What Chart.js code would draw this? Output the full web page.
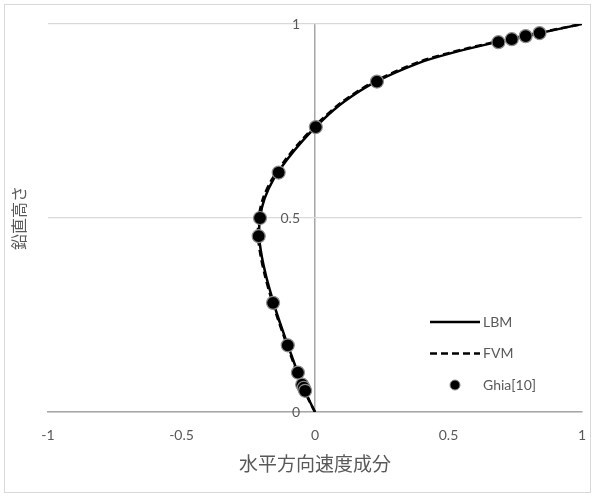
<!DOCTYPE html>
<html>
<head>
<meta charset="utf-8">
<script src="https://cdn.jsdelivr.net/npm/chart.js@4.4.1/dist/chart.umd.min.js"></script>
<style>
  html, body { margin: 0; padding: 0; background: #fff; }
  #wrap {
    position: absolute; left: 4px; top: 4px;
    width: 585px; height: 487px;
    border: 1px solid #d9d9d9;
  }
</style>
</head>
<body>
<div id="wrap"><canvas id="chart" width="585" height="487"></canvas></div>
<script>
// vertical position (y) and horizontal velocity (u)
const lbmY = [0, 0.025, 0.05, 0.075, 0.1, 0.15, 0.2, 0.25, 0.3, 0.35, 0.4, 0.45, 0.5,
  0.55, 0.6, 0.65, 0.7, 0.75, 0.8, 0.85, 0.9, 0.925, 0.95, 0.975, 1];
const lbmU = [0, -0.018, -0.035, -0.050, -0.064, -0.090, -0.116, -0.141, -0.163, -0.183,
  -0.199, -0.209, -0.206, -0.189, -0.155, -0.105, -0.045, 0.025, 0.110, 0.225, 0.390,
  0.510, 0.660, 0.830, 1];

const fvmY = [0, 0.025, 0.05, 0.075, 0.1, 0.15, 0.2, 0.25, 0.3, 0.35, 0.4, 0.45, 0.5,
  0.55, 0.6, 0.65, 0.7, 0.75, 0.8, 0.85, 0.9, 0.925, 0.95, 0.975, 1];
const fvmU = [0, -0.019, -0.036, -0.052, -0.066, -0.093, -0.119, -0.144, -0.167, -0.187,
  -0.203, -0.213, -0.211, -0.195, -0.161, -0.111, -0.051, 0.019, 0.103, 0.217, 0.380,
  0.500, 0.650, 0.822, 1];

const ghiaY = [0.9766, 0.9688, 0.9609, 0.9531, 0.8516, 0.7344, 0.6172, 0.5, 0.4531,
  0.2813, 0.1719, 0.1016, 0.0703, 0.0625, 0.0547];
const ghiaU = [0.841, 0.789, 0.737, 0.687, 0.232, 0.003, -0.136, -0.206, -0.211,
  -0.157, -0.102, -0.064, -0.048, -0.042, -0.037];

const xTicks = [-1, -0.5, 0, 0.5, 1];
const yTicks = [0, 0.5, 1];

const FONT = "Lato, 'Noto Sans CJK JP', sans-serif";
const TEXT = "#595959";
const AXIS = "#a6a6a6";

const toPts = (xs, ys) => xs.map((x, i) => ({ x, y: ys[i] }));

// legend drawn inside the plot area, lower right
const insideLegend = {
  id: "insideLegend",
  afterDraw(chart) {
    const { ctx, chartArea } = chart;
    const x0 = chartArea.right - 152;
    const items = [
      { label: "LBM", kind: "line", ds: chart.data.datasets[0] },
      { label: "FVM", kind: "line", ds: chart.data.datasets[1] },
      { label: "Ghia[10]", kind: "point", ds: chart.data.datasets[2] },
    ];
    ctx.save();
    items.forEach((it, i) => {
      const y = chartArea.top + 298 + i * 31.5;
      if (it.kind === "line") {
        ctx.beginPath();
        ctx.strokeStyle = it.ds.borderColor;
        ctx.lineWidth = it.ds.borderWidth;
        ctx.setLineDash(it.ds.borderDash || []);
        ctx.moveTo(x0, y);
        ctx.lineTo(x0 + 50, y);
        ctx.stroke();
        ctx.setLineDash([]);
      } else {
        ctx.beginPath();
        ctx.fillStyle = it.ds.pointBackgroundColor;
        ctx.strokeStyle = it.ds.pointBorderColor;
        ctx.lineWidth = 1;
        ctx.arc(x0 + 25, y, 5, 0, Math.PI * 2);
        ctx.fill();
        ctx.stroke();
      }
      ctx.fillStyle = TEXT;
      ctx.font = "14px " + FONT;
      ctx.textAlign = "left";
      ctx.textBaseline = "middle";
      ctx.fillText(it.label, x0 + 53, y);
    });
    ctx.restore();
  },
};

new Chart(document.getElementById("chart"), {
  type: "scatter",
  data: {
    datasets: [
      {
        label: "LBM",
        data: toPts(lbmU, lbmY),
        showLine: true,
        borderColor: "#000",
        borderWidth: 2.5,
        pointRadius: 0,
        tension: 0.3,
        order: 2,
      },
      {
        label: "FVM",
        data: toPts(fvmU, fvmY),
        showLine: true,
        borderColor: "#000",
        borderWidth: 2.5,
        borderDash: [7, 4],
        pointRadius: 0,
        tension: 0.3,
        order: 1,
      },
      {
        label: "Ghia[10]",
        data: toPts(ghiaU, ghiaY),
        showLine: false,
        pointRadius: 6.5,
        pointBackgroundColor: "#000",
        pointBorderColor: "#8c8c8c",
        pointBorderWidth: 1.2,
        order: 0,
      },
    ],
  },
  options: {
    responsive: false,
    animation: false,
    layout: { padding: { left: 0, top: 19, right: 8, bottom: 0 } },
    plugins: {
      legend: { display: false },
      tooltip: { enabled: false },
    },
    scales: {
      x: {
        type: "linear",
        position: "bottom",
        min: -1,
        max: 1,
        afterBuildTicks: (s) => { s.ticks = xTicks.map(v => ({ value: v })); },
        afterFit: (s) => { s.height = 80; s.paddingLeft = 0; s.paddingRight = 0; },
        // only the x = 0 line is shown: it acts as the vertical axis
        grid: {
          drawTicks: false,
          lineWidth: 1.5,
          color: (c) => (c.tick && c.tick.value === 0 ? AXIS : "rgba(0,0,0,0)"),
        },
        border: { display: true, color: AXIS, width: 1.5 },
        ticks: {
          padding: 15,
          color: TEXT,
          font: { family: FONT, size: 14 },
          callback: (v) => String(v),
        },
        title: {
          display: true,
          text: "水平方向速度成分",
          color: TEXT,
          font: { family: FONT, size: 19 },
          padding: { top: 0, bottom: 16 },
        },
      },
      y: {
        type: "linear",
        // labels sit just left of the x = 0 line
        position: { x: -0.056 },
        min: 0,
        max: 1,
        afterBuildTicks: (s) => { s.ticks = yTicks.map(v => ({ value: v })); },
        afterFit: (s) => { s.paddingTop = 0; s.paddingBottom = 0; },
        grid: { color: "#d9d9d9", lineWidth: 1.2, drawTicks: false },
        border: { display: false },
        ticks: {
          padding: 0,
          color: TEXT,
          font: { family: FONT, size: 14 },
          callback: (v) => String(v),
        },
      },
      yt: {
        type: "linear",
        position: "left",
        min: 0,
        max: 1,
        afterFit: (s) => { s.width = 43; s.paddingTop = 0; s.paddingBottom = 0; },
        grid: { display: false, drawTicks: false },
        border: { display: false },
        ticks: { display: false },
        title: {
          display: true,
          text: "鉛直高さ",
          color: TEXT,
          font: { family: FONT, size: 16 },
          padding: { top: 5, bottom: 0 },
        },
      },
    },
  },
  plugins: [insideLegend],
});
</script>
</body>
</html>
